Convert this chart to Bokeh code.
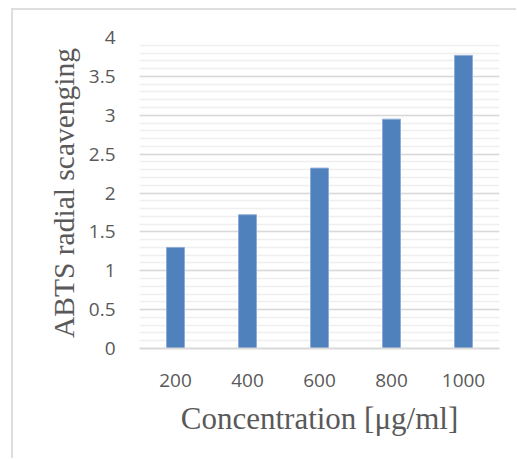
from bokeh.plotting import figure
from bokeh.models import FixedTicker
from bokeh.embed import file_html
from bokeh.resources import INLINE

concentrations = ["200", "400", "600", "800", "1000"]
abts_values = [1.30, 1.72, 2.32, 2.95, 3.77]
y_major_ticks = [0, 0.5, 1, 1.5, 2, 2.5, 3, 3.5, 4]
y_minor_ticks = [round(i * 0.1, 1) for i in range(0, 41)]
y_tick_labels = ["0", "0.5", "1", "1.5", "2", "2.5", "3", "3.5", "4"]

p = figure(width=505, height=450, x_range=concentrations, y_range=(0, 4),
           output_backend="svg", toolbar_location=None,
           min_border_left=126, min_border_right=19, min_border_top=27,
           min_border_bottom=112)
p.margin = (8, 0, 0, 11)
p.styles = {"border-left": "2px solid #dedede", "border-top": "2px solid #dedede"}
p.outline_line_color = None
p.x_range.range_padding = 0

p.vbar(x=concentrations, top=abts_values, width=0.25,
       fill_color="#4f81bd", line_color="#8eacd6", line_width=1)

# y axis
p.yaxis.ticker = FixedTicker(ticks=y_major_ticks, minor_ticks=y_minor_ticks)
p.yaxis.major_label_overrides = {t: l for t, l in zip(y_major_ticks, y_tick_labels)}
p.yaxis.axis_line_color = None
p.yaxis.major_tick_line_color = None
p.yaxis.minor_tick_line_color = None
p.yaxis.major_label_text_font = "Open Sans"
p.yaxis.major_label_text_font_size = "19px"
p.yaxis.major_label_text_color = "#595959"
p.yaxis.major_label_standoff = 18
p.yaxis.axis_label = "ABTS radial scavenging"
p.yaxis.axis_label_text_font = "Liberation Serif"
p.yaxis.axis_label_text_font_size = "29.5px"
p.yaxis.axis_label_text_font_style = "normal"
p.yaxis.axis_label_text_color = "#595959"
p.yaxis.axis_label_standoff = 6

# x axis
p.xaxis.axis_line_color = "#d9d9d9"
p.xaxis.axis_line_width = 2
p.xaxis.major_tick_line_color = None
p.xaxis.minor_tick_line_color = None
p.xaxis.major_label_text_font = "Open Sans"
p.xaxis.major_label_text_font_size = "19px"
p.xaxis.major_label_text_color = "#595959"
p.xaxis.major_label_standoff = 19
p.xaxis.axis_label = "Concentration [\u03bcg/ml]"
p.xaxis.axis_label_text_font = "Liberation Serif"
p.xaxis.axis_label_text_font_size = "31px"
p.xaxis.axis_label_text_font_style = "normal"
p.xaxis.axis_label_text_color = "#595959"
p.xaxis.axis_label_standoff = 11

# grids
p.xgrid.grid_line_color = None
p.ygrid.grid_line_color = "#d9d9d9"
p.ygrid.grid_line_width = 1.5
p.ygrid.minor_grid_line_color = "#efefef"
p.ygrid.minor_grid_line_width = 1.5

open("out.html", "w").write(file_html(p, INLINE))
